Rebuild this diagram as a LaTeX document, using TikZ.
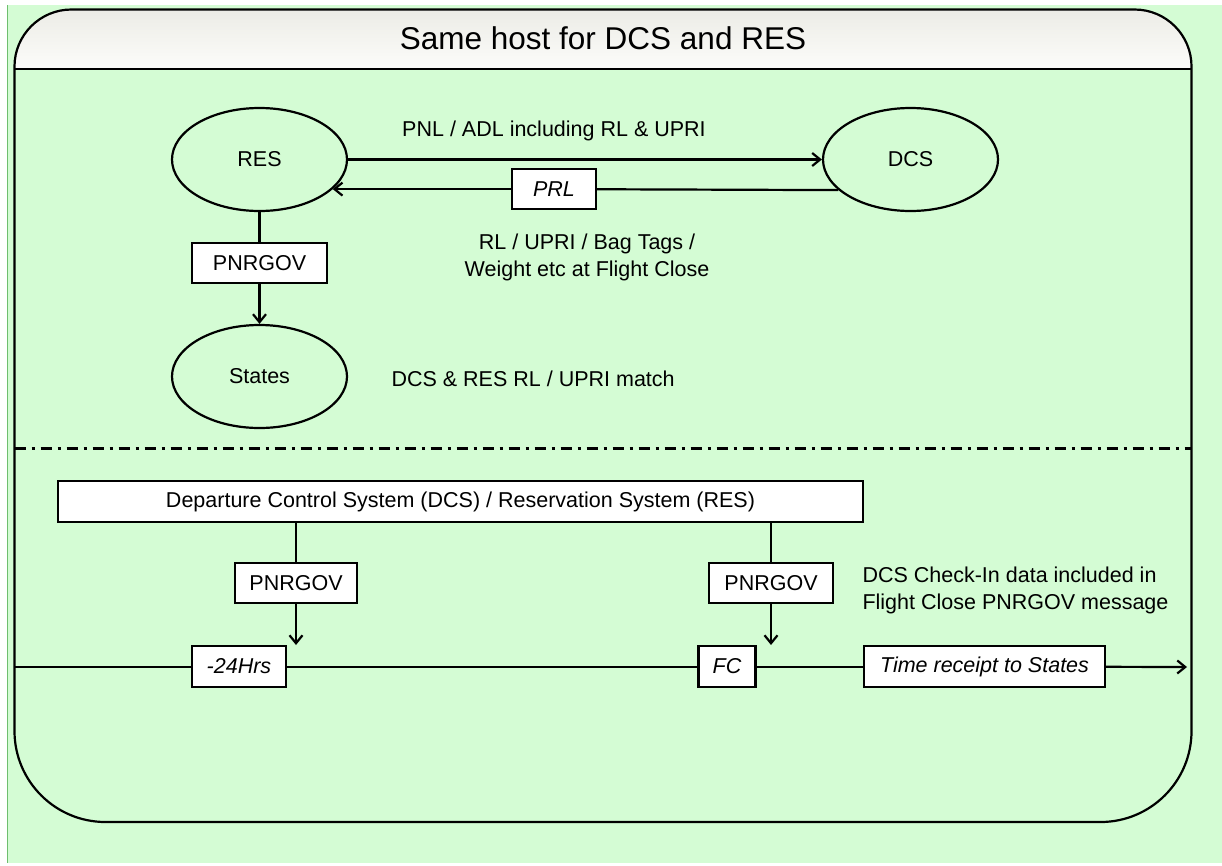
\documentclass[tikz,border=0pt]{standalone}
\usepackage{fontspec}
\setmainfont{Liberation Sans}
\usetikzlibrary{shapes.geometric,arrows.meta,positioning,calc}
\definecolor{bggreen}{RGB}{212,252,212}
\definecolor{edgegreen}{RGB}{110,190,110}
\definecolor{hdrtop}{RGB}{236,236,230}
\definecolor{hdrbot}{RGB}{252,252,250}

\begin{document}
\begin{tikzpicture}[x=1pt,y=-1pt,
    >={Straight Barb[length=8pt,width=13pt]},
    every node/.style={font=\fontsize{21.5}{27}\selectfont},
    ell/.style={draw,ellipse,line width=2.2pt,minimum width=175pt,minimum height=103pt,inner sep=0pt},
    msgbox/.style={draw,fill=white,line width=2.2pt,minimum height=40pt,inner sep=0pt},
    itbox/.style={msgbox,font=\fontsize{21.5}{27}\selectfont\itshape},
    conn/.style={line width=2.2pt}]
    \useasboundingbox (0,0) rectangle (1222,865);
    \fill[bggreen] (7,5) rectangle (1222,863);
    \draw[edgegreen, line width=1pt] (7.5,5) -- (7.5,863);

    % Frame and header
    \begin{scope}
      \clip (14.5,400) [rounded corners=91pt] -- (14.5,822) -- (1191.5,822) -- (1191.5,400)
        [rounded corners=57pt] -- (1191.5,9.5) -- (14.5,9.5) -- cycle;
      \shade[top color=hdrtop, bottom color=hdrbot] (14.5,9.5) rectangle (1191.5,69);
    \end{scope}
    \draw[line width=2.2pt] (14.5,400) [rounded corners=91pt] -- (14.5,822) -- (1191.5,822) -- (1191.5,400)
        [rounded corners=57pt] -- (1191.5,9.5) -- (14.5,9.5) -- cycle;
    \draw[line width=2.2pt] (14.5,69) -- (1191.5,69);
    \node[font=\fontsize{31.5}{37}\selectfont] (title) at (603,38) {Same host for DCS and RES};

    % Same host exchange
    \node[ell] (res) at (259.5,159.5) {RES};
    \node[ell] (dcs) at (910.5,159.5) {DCS};
    \node[ell] (states) at (259.5,376.5) {States};
    \node[itbox, minimum width=84pt] (prl) at (554,0 |- res.-22.3) {PRL};
    \node[msgbox, minimum width=135pt] (pnr1) at (259.5,263) {PNRGOV};
    \draw[conn,->] (res) -- (dcs);
    \draw[conn] (dcs.-157.7) -- (prl);
    \draw[conn,->] (prl) -- (res.-22.3);
    \draw[conn] (res) -- (pnr1);
    \draw[conn,->] (pnr1) -- (states);
    \node (pnl) at (554,131) {PNL / ADL including RL \& UPRI};
    \node[align=center] (close) at (587,257.5) {RL / UPRI / Bag Tags /\\Weight etc at Flight Close};
    \node[anchor=west] (match) at (388,379) {DCS \& RES RL / UPRI match};

    \draw[line width=3pt, dash pattern=on 11pt off 6pt on 3pt off 6pt] (14.5,448) -- (1191.5,448);

    % Timeline
    \node[msgbox, minimum width=805pt, minimum height=41pt] (sys) at (460.5,501.5)
        {Departure Control System (DCS) / Reservation System (RES)};
    \node[msgbox, minimum width=122pt] (pnr2) at (296,583) {PNRGOV};
    \node[msgbox, minimum width=124pt] (pnr3) at (771,583) {PNRGOV};
    \node[anchor=west, align=left] (note) at (859,590)
        {DCS Check-In data included in\\Flight Close PNRGOV message};
    \coordinate (tstart) at (15,667);
    \coordinate (tend) at (1187,667);
    \coordinate (drop1) at (296,645);
    \coordinate (drop2) at (771,645);
    \draw[conn] (tstart) -- (239,667) -- (984.5,667);
    \node[itbox, minimum width=94pt, minimum height=41pt] (hrs) at (239,666.5) {-24Hrs};
    \node[itbox, minimum width=57pt, minimum height=41pt] (fc) at (727,666.5) {FC};
    \node[itbox, minimum width=241pt, minimum height=41pt] (trs) at (984.5,666.5) {Time receipt to States};
    \draw[conn,->] (trs) -- (tend);
    \draw[conn] (sys.south -| pnr2) -- (pnr2);
    \draw[conn,->] (pnr2) -- (drop1);
    \draw[conn] (sys.south -| pnr3) -- (pnr3);
    \draw[conn,->] (pnr3) -- (drop2);
\end{tikzpicture}
\end{document}
